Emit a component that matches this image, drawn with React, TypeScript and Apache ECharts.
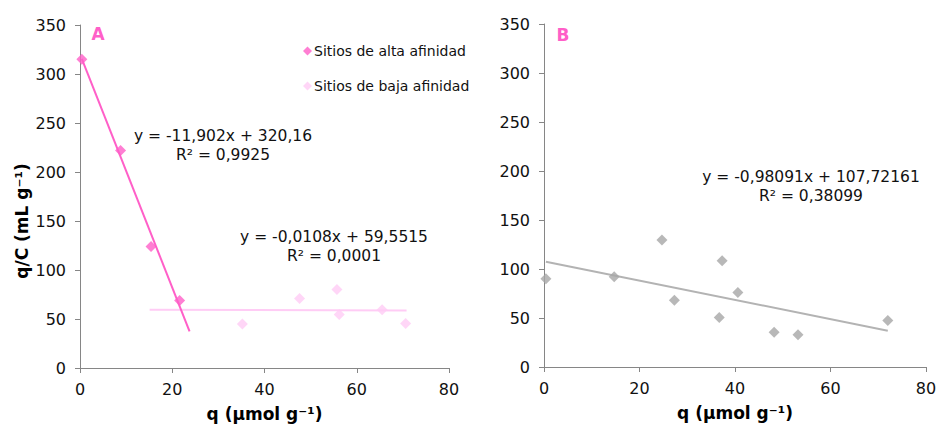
import React, { useEffect, useRef } from "react";
import * as echarts from "echarts";

// Panel A – high affinity sites
const highX = [0.4, 8.8, 15.4, 21.6];
const highY = [315, 222, 124, 69];
// Panel A – low affinity sites
const lowX = [35.2, 47.6, 55.7, 56.2, 65.5, 70.6];
const lowY = [45, 71, 80, 54.5, 59.5, 45.5];
// Panel B
const bX = [0.4, 14.7, 24.7, 27.3, 36.7, 37.3, 40.6, 48.2, 53.2, 72.0];
const bY = [90, 92, 129.5, 68, 50.5, 108.5, 76, 35.5, 33, 47.5];

// Trendlines: [slope, intercept, xStart, xEnd]
const highTrend = [-11.902, 320.16, 0.4, 23.75];
const lowTrend = [-0.0108, 59.5515, 15.1, 70.8];
const bTrend = [-0.98091, 107.72161, 0.4, 72.0];

const xTicks = { min: 0, max: 80, interval: 20 };
const yTicks = { min: 0, max: 350, interval: 50 };

const seriesNames = ["Sitios de alta afinidad", "Sitios de baja afinidad"];
const eqHigh = ["y = -11,902x + 320,16", "R² = 0,9925"];
const eqLow = ["y = -0,0108x + 59,5515", "R² = 0,0001"];
const eqB = ["y = -0,98091x + 107,72161", "R² = 0,38099"];
const xTitle = "q (µmol g⁻¹)";
const yTitle = "q/C (mL g⁻¹)";

const FONT = "DejaVu Sans";
const PINK = "#ff5fc8";
const LIGHT = "#ffccf5";
const GRAY = "#a6a6a6";
const AXIS = "#868686";

const zip = (xs: number[], ys: number[]) => xs.map((x, i) => [x, ys[i]]);
const trend = (t: number[]) => [
  [t[2], t[0] * t[2] + t[1]],
  [t[3], t[0] * t[3] + t[1]],
];

function makeX(gridIndex: number) {
  return {
    type: "value",
    gridIndex,
    ...xTicks,
    name: xTitle,
    nameLocation: "middle",
    nameGap: 37,
    nameTextStyle: { fontFamily: FONT, fontWeight: "bold", fontSize: 17, color: "#000" },
    axisLine: { lineStyle: { color: AXIS, width: 1 } },
    axisTick: { show: true, length: 5, lineStyle: { color: AXIS } },
    axisLabel: { fontFamily: FONT, fontSize: 16, color: "#111", margin: 13 },
    splitLine: { show: false },
  };
}
function makeY(gridIndex: number) {
  return {
    type: "value",
    gridIndex,
    ...yTicks,
    axisLine: { show: true, lineStyle: { color: AXIS, width: 1 } },
    axisTick: { show: true, length: 5, lineStyle: { color: AXIS } },
    axisLabel: { fontFamily: FONT, fontSize: 16, color: "#111", margin: 14 },
    splitLine: { show: false },
  };
}

export default function App() {
  const ref = useRef<HTMLDivElement>(null);
  useEffect(() => {
    document.body.style.margin = "0";
    if (!ref.current) return;
    const chart = echarts.init(ref.current, undefined, { renderer: "svg" });
    const eqText = (lines: string[], x: number, y: number) =>
      lines.map((t, i) => ({
        type: "text",
        x,
        y: y + i * 18.5,
        style: {
          text: t,
          fontFamily: FONT,
          fontSize: 15.5,
          fill: "#111",
          textAlign: "center",
          textVerticalAlign: "middle",
        },
      }));
    chart.setOption({
      animation: false,
      backgroundColor: "#fff",
      grid: [
        { left: 80, right: 488, top: 25, bottom: 57, outerBoundsMode: "none", containLabel: false },
        { left: 544, right: 11, top: 24, bottom: 58, outerBoundsMode: "none", containLabel: false },
      ],
      xAxis: [makeX(0), makeX(1)],
      yAxis: [makeY(0), makeY(1)],
      legend: {
        data: seriesNames.map((n) => ({ name: n, icon: "diamond" })),
        orient: "vertical",
        left: 298,
        top: 39,
        itemWidth: 9,
        itemHeight: 9,
        itemGap: 21,
        textStyle: { fontFamily: FONT, fontSize: 14, color: "#111", padding: [0, 0, 0, -3] },
      },
      graphic: [
        {
          type: "text",
          x: 98,
          y: 34,
          style: { text: "A", fontFamily: FONT, fontWeight: "bold", fontSize: 17, fill: PINK, textAlign: "center", textVerticalAlign: "middle" },
        },
        {
          type: "text",
          x: 563,
          y: 35,
          style: { text: "B", fontFamily: FONT, fontWeight: "bold", fontSize: 17, fill: PINK, textAlign: "center", textVerticalAlign: "middle" },
        },
        {
          type: "text",
          x: 22,
          y: 221,
          rotation: Math.PI / 2,
          style: { text: yTitle, fontFamily: FONT, fontWeight: "bold", fontSize: 17, fill: "#000", textAlign: "center", textVerticalAlign: "middle" },
        },
        ...eqText(eqHigh, 223, 136),
        ...eqText(eqLow, 334, 237),
        ...eqText(eqB, 811, 177),
      ],
      series: [
        {
          type: "line",
          xAxisIndex: 0,
          yAxisIndex: 0,
          data: trend(lowTrend),
          symbol: "none",
          lineStyle: { color: LIGHT, width: 2 },
          silent: true,
          z: 1,
        },
        {
          type: "line",
          xAxisIndex: 0,
          yAxisIndex: 0,
          data: trend(highTrend),
          symbol: "none",
          lineStyle: { color: PINK, width: 2 },
          silent: true,
          z: 2,
        },
        {
          name: seriesNames[0],
          type: "scatter",
          xAxisIndex: 0,
          yAxisIndex: 0,
          data: zip(highX, highY),
          symbol: "diamond",
          symbolSize: 11,
          itemStyle: { color: PINK },
          z: 3,
        },
        {
          name: seriesNames[1],
          type: "scatter",
          xAxisIndex: 0,
          yAxisIndex: 0,
          data: zip(lowX, lowY),
          symbol: "diamond",
          symbolSize: 11,
          itemStyle: { color: LIGHT },
          z: 3,
        },
        {
          type: "line",
          xAxisIndex: 1,
          yAxisIndex: 1,
          data: trend(bTrend),
          symbol: "none",
          lineStyle: { color: "#b3b3b3", width: 2 },
          silent: true,
          z: 1,
        },
        {
          type: "scatter",
          xAxisIndex: 1,
          yAxisIndex: 1,
          data: zip(bX, bY),
          symbol: "diamond",
          symbolSize: 11,
          itemStyle: { color: GRAY },
          z: 3,
        },
      ],
    });
    return () => chart.dispose();
  }, []);
  return <div ref={ref} style={{ width: 937, height: 425 }} />;
}
